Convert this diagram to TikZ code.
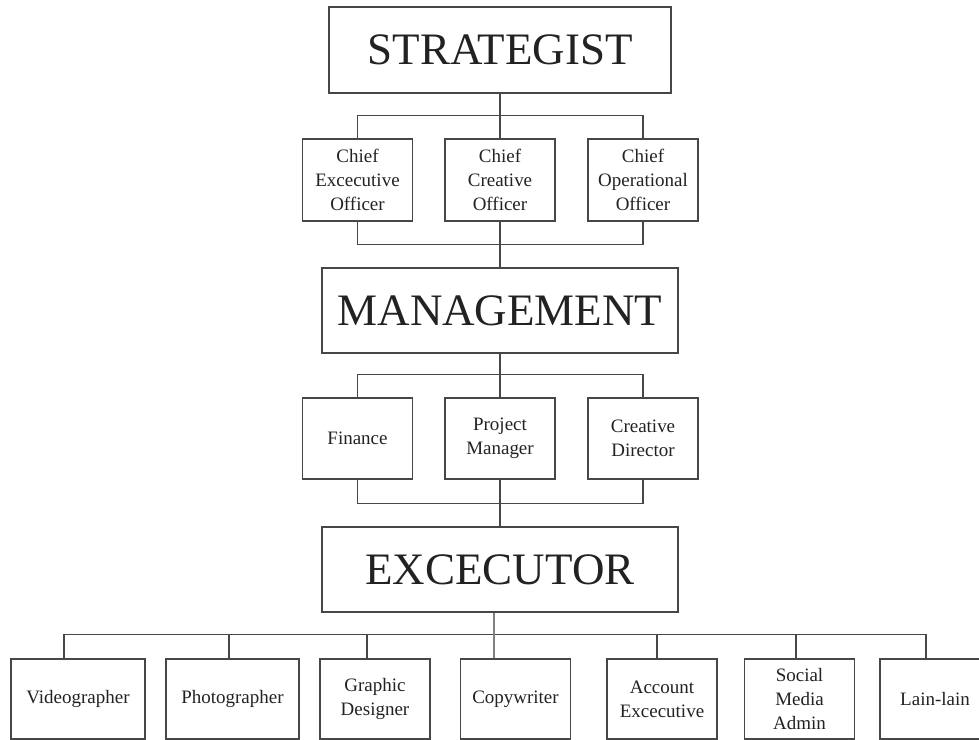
\documentclass[tikz,border=0pt]{standalone}
\usepackage{fontspec}
\setmainfont{Liberation Serif}
\usepackage{xcolor}
\usepackage{tikz}

\definecolor{inkc}{HTML}{222222}
\definecolor{linec}{HTML}{474747}
\tikzset{
	levelbox/.style={draw=linec,line width=1pt,text=inkc,minimum height=2.125cm,
		font=\fontsize{32}{38}\selectfont},
	rolebox/.style={draw=linec,line width=1pt,text=inkc,align=center,minimum width=2.75cm,
		font=\fontsize{13.5}{17}\selectfont},
	link/.style={draw=linec,line width=1pt}
}

\begin{document}
\begin{tikzpicture}[x=0.025cm,y=-0.025cm]
	\useasboundingbox (0,0) rectangle (979,740);
	\clip (0,0) rectangle (979,740);
	% top level
	\node[levelbox,minimum width=8.55cm,minimum height=2.15cm] at (500,50) (strat) {STRATEGIST};
	\node[rolebox,minimum height=2.05cm] at (357.5,180) (ceo) {Chief\\Excecutive\\Officer};
	\node[rolebox,minimum height=2.05cm] at (500,180) (cco) {Chief\\Creative\\Officer};
	\node[rolebox,minimum height=2.05cm] at (643,180) (coo) {Chief\\Operational\\Officer};
	% middle level
	\node[levelbox,minimum width=8.9cm] at (500,310.5) (mgmt) {MANAGEMENT};
	\node[rolebox,minimum height=2.025cm] at (357.5,438.5) (fin) {Finance};
	\node[rolebox,minimum height=2.025cm] at (500,438.5) (pm) {Project\\Manager};
	\node[rolebox,minimum height=2.025cm] at (643,438.5) (cd) {Creative\\Director};
	% lower level
	\node[levelbox,minimum width=8.9cm] at (500,569.5) (exec) {EXCECUTOR};
	\node[rolebox,minimum height=2cm,minimum width=3.35cm] at (78,699) (video) {Videographer};
	\node[rolebox,minimum height=2cm,minimum width=3.325cm] at (232.5,699) (photo) {Photographer};
	\node[rolebox,minimum height=2cm] at (375,699) (graph) {Graphic\\Designer};
	\node[rolebox,minimum height=2cm] at (515.5,699) (copy) {Copywriter};
	\node[rolebox,minimum height=2cm] at (662,699) (acc) {Account\\Excecutive};
	\node[rolebox,minimum height=2cm] at (799.5,699) (soc) {Social\\Media\\Admin};
	\node[rolebox,minimum height=2cm] at (935,699) (lain) {Lain-lain};

	\draw [link] (strat.south) -- (cco.north);
	\draw [link] (ceo.north) -- ++(0,0.575cm) -| (coo.north);
	\draw [link] (ceo.south) -- ++(0,-0.575cm) -| (coo.south);
	\draw [link] (cco.south) -- (mgmt.north);
	\draw [link] (mgmt.south) -- (pm.north);
	\draw [link] (fin.north) -- ++(0,0.575cm) -| (cd.north);
	\draw [link] (fin.south) -- ++(0,-0.6cm) -| (cd.south);
	\draw [link] (pm.south) -- (exec.north);
	\draw [link,draw=gray] ([xshift=-0.15cm]exec.south) -- ++(0,-0.575cm);
	\draw [link] ([xshift=-0.35cm]video.north) -- ++(0,0.6cm) -| ([xshift=-0.225cm]lain.north);
	\draw [link] ([xshift=-0.09cm]photo.north) -- ++(0,0.6cm);
	\draw [link] ([xshift=-0.2cm]graph.north) -- ++(0,0.6cm);
	\draw [link,draw=gray] ([xshift=-0.54cm]copy.north) -- ++(0,0.6cm);
	\draw [link] ([xshift=-0.125cm]acc.north) -- ++(0,0.6cm);
	\draw [link] ([xshift=-0.09cm]soc.north) -- ++(0,0.6cm);
\end{tikzpicture}
\end{document}
